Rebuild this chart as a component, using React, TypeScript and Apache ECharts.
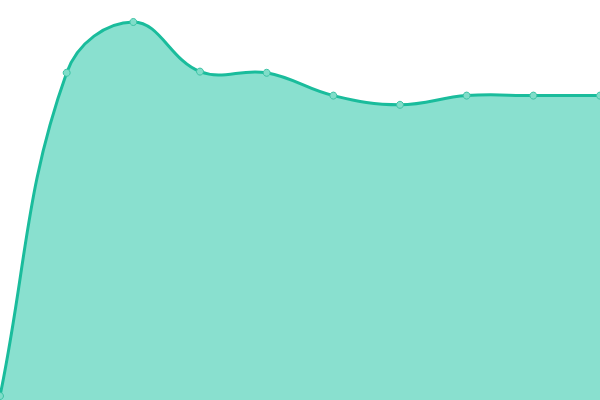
import React, { useEffect, useRef } from "react";
import * as echarts from "echarts";

const categories = ["1", "2", "3", "4", "5", "6", "7", "8", "9", "10"];
const values = [1, 81.8, 94.5, 82.1, 81.8, 76.1, 73.8, 76.1, 76.1, 76.1];

const TENSION = 0.4;

function buildPaths(pts: number[][], baseY: number) {
  const n = pts.length;
  const cps: { prev: number[]; next: number[] }[] = [];
  for (let i = 0; i < n; i++) {
    const cur = pts[i];
    const prev = pts[i - 1] || cur;
    const next = pts[i + 1] || cur;
    const d01 = Math.hypot(cur[0] - prev[0], cur[1] - prev[1]);
    const d12 = Math.hypot(next[0] - cur[0], next[1] - cur[1]);
    let s01 = d01 / (d01 + d12);
    let s12 = d12 / (d01 + d12);
    if (!isFinite(s01)) s01 = 0;
    if (!isFinite(s12)) s12 = 0;
    const fa = TENSION * s01;
    const fb = TENSION * s12;
    cps.push({
      prev: [cur[0] - fa * (next[0] - prev[0]), cur[1] - fa * (next[1] - prev[1])],
      next: [cur[0] + fb * (next[0] - prev[0]), cur[1] + fb * (next[1] - prev[1])],
    });
  }
  let d = `M${pts[0][0]},${pts[0][1]}`;
  for (let i = 1; i < n; i++) {
    const a = cps[i - 1].next;
    const b = cps[i].prev;
    d += ` C${a[0]},${a[1]} ${b[0]},${b[1]} ${pts[i][0]},${pts[i][1]}`;
  }
  const fill = d + ` L${pts[n - 1][0]},${baseY} L${pts[0][0]},${baseY} Z`;
  return { line: d, fill };
}

export default function App() {
  const ref = useRef<HTMLDivElement>(null);
  useEffect(() => {
    document.body.style.margin = "0";
    const chart = echarts.init(ref.current!, null, { renderer: "svg" });
    chart.setOption({
      animation: false,
      grid: { left: 0, right: 0, top: 0, bottom: 0 },
      xAxis: {
        type: "category",
        data: categories,
        boundaryGap: false,
        show: false,
      },
      yAxis: { type: "value", min: 0, max: 100, show: false },
      series: [
        {
          type: "custom",
          clip: true,
          data: [[0, 0]],
          renderItem: (params: any, api: any) => {
            const pts = values.map((v, i) => api.coord([i, v]));
            const baseY = api.coord([0, 0])[1];
            const { line, fill } = buildPaths(pts, baseY);
            return {
              type: "group",
              children: [
                { type: "path", shape: { pathData: fill }, style: { fill: "#89e0cf" } },
                {
                  type: "path",
                  shape: { pathData: line },
                  style: { fill: "none", stroke: "#1abc9c", lineWidth: 3 },
                },
                ...pts.map((p: number[]) => ({
                  type: "circle",
                  shape: { cx: p[0], cy: p[1], r: 3.5 },
                  style: { fill: "#80ddc9", stroke: "#3cc3a5", lineWidth: 1 },
                })),
              ],
            };
          },
        },
      ],
    });
    return () => chart.dispose();
  }, []);
  return <div ref={ref} style={{ width: 600, height: 400 }} />;
}
